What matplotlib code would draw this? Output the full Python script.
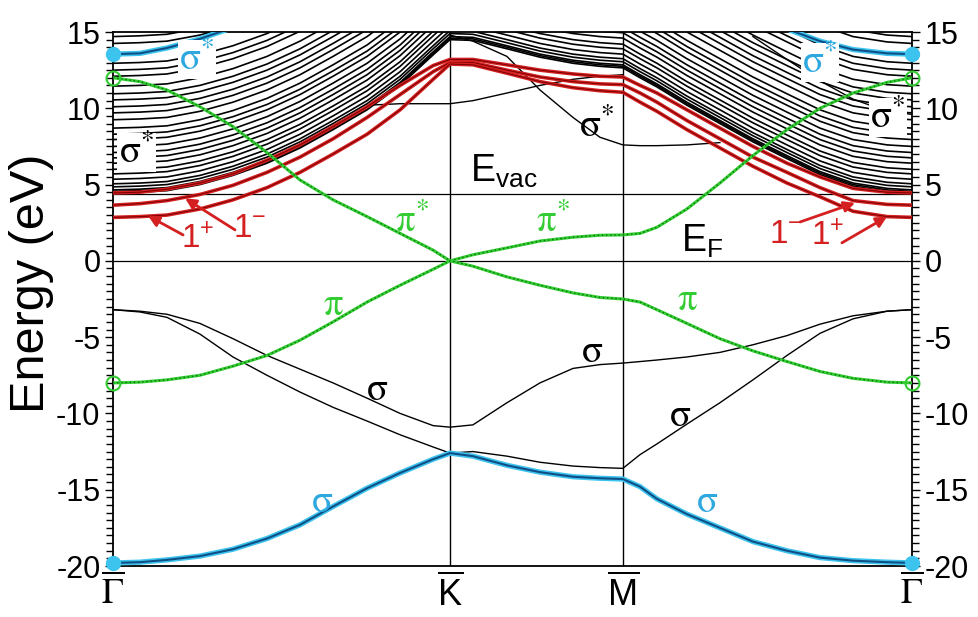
import numpy as np
import matplotlib
matplotlib.use('Agg')
import matplotlib.pyplot as plt
from matplotlib.ticker import MultipleLocator

plt.rcParams['font.family'] = ['Liberation Sans', 'DejaVu Sans']
plt.rcParams['mathtext.fontset'] = 'custom'
plt.rcParams['mathtext.rm'] = 'Liberation Sans'
plt.rcParams['mathtext.it'] = 'Liberation Sans:italic'
plt.rcParams['mathtext.bf'] = 'Liberation Sans:bold'
plt.rcParams['axes.unicode_minus'] = False

# k-path (Gamma - K - M - Gamma), distance along the path
k_ticks = [0.0, 1.0, 1.513, 2.371]
k_labels = [r'$\overline{\Gamma}$', r'$\overline{\mathrm{K}}$', r'$\overline{\mathrm{M}}$', r'$\overline{\Gamma}$']
k = [0.000, 0.080, 0.160, 0.258, 0.356, 0.457, 0.555, 0.653, 0.754, 0.852, 0.950, 1.000,
     1.068, 1.169, 1.267, 1.365, 1.445, 1.513,
     1.564, 1.614, 1.703, 1.801, 1.899, 2.000, 2.098, 2.196, 2.297, 2.371]

nan = np.nan
e_vac = 4.4

# pi / pi* bands (green)
pi_star = [12.0, 11.75, 11.2, 10.1, 8.8, 7.1, 5.3, 4.0, 2.9, 1.8, 0.7, 0.0,
           0.4, 0.85, 1.3, 1.55, 1.68, 1.7,
           1.8, 2.2, 3.4, 5.1, 6.9, 8.6, 10.0, 11.0, 11.7, 12.0]
pi_band = [-8.0, -7.95, -7.8, -7.5, -6.9, -6.2, -5.2, -4.0, -2.7, -1.6, -0.55, 0.0,
           -0.35, -1.05, -1.6, -2.1, -2.4, -2.5,
           -2.7, -3.2, -4.1, -5.1, -5.9, -6.6, -7.25, -7.7, -7.95, -8.0]

# sigma bands
sigma_low = [-19.8, -19.75, -19.6, -19.35, -18.9, -18.2, -17.3, -16.1, -14.9, -13.9, -13.0, -12.6,
             -12.8, -13.4, -13.85, -14.15, -14.25, -14.3,
             -14.8, -15.6, -16.6, -17.5, -18.4, -19.0, -19.45, -19.65, -19.75, -19.8]
sigma_a = [-3.2, -3.3, -3.5, -4.1, -5.1, -6.2, -7.1, -8.0, -9.0, -10.0, -10.8, -10.9,
           -10.75, -9.3, -8.0, -7.05, -6.8, -6.7,
           -6.6, -6.5, -6.3, -6.0, -5.5, -4.9, -4.15, -3.6, -3.3, -3.2]
sigma_b = [-3.2, -3.35, -3.7, -4.8, -6.3, -7.5, -8.6, -9.6, -10.5, -11.4, -12.2, -12.6,
           -12.5, -12.8, -13.2, -13.45, -13.55, -13.6,
           -12.7, -12.0, -10.7, -9.3, -7.8, -6.2, -4.75, -3.8, -3.3, -3.2]
sigma_star_top = [13.55, 13.6, 13.95, 14.55, 15.3, nan, nan, nan, nan, nan, nan, nan,
                  nan, nan, nan, nan, nan, nan,
                  nan, nan, nan, nan, nan, 15.2, 14.4, 13.85, 13.6, 13.55]
sigma_star_km = [nan, nan, nan, nan, nan, nan, nan, nan, nan, nan, nan, 14.8,
                 14.4, 13.4, 11.2, 9.4, 8.1, 7.6,
                 7.55, 7.55, 7.6, 7.75, nan, nan, nan, nan, nan, nan]
sigma_star_mg = [nan, nan, nan, nan, nan, nan, nan, nan, nan, nan, nan, nan,
                 nan, nan, nan, nan, nan, nan,
                 nan, nan, nan, nan, 14.7, 13.2, 11.8, 10.6, 9.8, 9.6]
band_k = [nan, nan, nan, nan, nan, nan, nan, nan, 10.2, 10.3, 10.3, 10.3,
          10.5, 11.0, 11.5, 11.9, 12.1, 12.2,
          nan, nan, nan, nan, nan, nan, nan, nan, nan, nan]

# image-potential states 1+ / 1- and the next one (red)
ips_1p = [2.85, 2.9, 3.0, 3.4, 4.0, 4.8, 5.8, 7.0, 8.3, 9.9, 11.9, 12.9,
          12.85, 12.3, 11.75, 11.35, 11.15, 11.05,
          10.4, 9.8, 8.6, 7.4, 6.2, 5.1, 4.2, 3.25, 2.9, 2.85]
ips_1m = [3.65, 3.75, 3.95, 4.35, 4.95, 5.8, 6.8, 8.0, 9.4, 10.9, 12.4, 13.0,
          13.0, 12.5, 12.05, 11.75, 11.6, 11.55,
          11.0, 10.4, 9.2, 8.0, 6.8, 5.8, 4.8, 3.95, 3.7, 3.65]
ips_2 = [4.45, 4.5, 4.7, 5.1, 5.7, 6.6, 7.6, 8.8, 10.1, 11.5, 12.8, 13.2,
         13.2, 12.85, 12.5, 12.25, 12.1, 12.05,
         11.5, 11.0, 9.9, 8.7, 7.5, 6.4, 5.5, 4.75, 4.5, 4.45]

# free-electron-like slab states: energies at Gamma and common dispersion above them
bundle_gamma = [4.45, 4.55, 4.65, 4.85, 5.05, 5.35, 5.7, 6.0, 6.4, 6.75, 7.1, 7.5, 7.95, 8.3,
                8.7, 9.25, 9.7, 10.1, 10.55, 10.95, 11.45, 12.1, 12.5, 12.95, 14.25, 14.7]
bundle_shape = [0.0, 0.05, 0.15, 0.55, 1.15, 1.95, 2.95, 4.15, 5.45, 7.05, 9.05, 10.05,
                10.0, 9.45, 8.9, 8.5, 8.3, 8.2,
                7.55, 6.95, 5.75, 4.55, 3.35, 2.25, 1.2, 0.45, 0.1, 0.0]

green = '#33cc33'
dgreen = '#0a6e0a'
red = '#d42020'
dred = '#7a0000'
cyan = '#3cc4ee'
dblue = '#0f4f86'

fig = plt.figure(figsize=(9.79, 6.17), dpi=100)
ax = fig.add_axes([113/979, 1 - 566/617, 799/979, 534/617])

# dense slab states
for e0 in bundle_gamma:
    ax.plot(k, np.array(bundle_shape) + e0, color='black', lw=1.2, zorder=1)

for band in [sigma_star_km, sigma_star_mg, band_k, sigma_a, sigma_b]:
    ax.plot(k, band, color='black', lw=1.0, zorder=2)

for band in [ips_2, ips_1m, ips_1p]:
    ax.plot(k, band, color=red, lw=2.6, zorder=3)
    ax.plot(k, band, color=dred, lw=0.7, zorder=3)

for band in [pi_star, pi_band]:
    ax.plot(k, band, color=green, lw=2.2, zorder=4)
    ax.plot(k, band, color=dgreen, lw=1.0, ls=(0, (1, 2)), zorder=4)

for band in [sigma_star_top, sigma_low]:
    ax.plot(k, band, color=cyan, lw=3.8, zorder=5, solid_capstyle='round')
    ax.plot(k, band, color=dblue, lw=1.5, zorder=5)

# markers at Gamma
for kk in [k_ticks[0], k_ticks[-1]]:
    ax.plot([kk, kk], [sigma_star_top[0], sigma_low[0]], 'o', ms=10, color=cyan,
            mec=cyan, zorder=6, clip_on=False)
    ax.plot([kk, kk], [pi_star[0], pi_band[0]], 'o', ms=10, mfc='none', mec=green,
            mew=1.5, zorder=6, clip_on=False)

# reference lines
ax.axhline(0, color='black', lw=0.9, zorder=2)
ax.axhline(e_vac, color='black', lw=0.9, zorder=2)
for kk in k_ticks[1:3]:
    ax.axvline(kk, color='black', lw=1.0, zorder=2)

# labels on the bands
box = dict(facecolor='white', edgecolor='none', pad=1.0)
greek = dict(math_fontfamily='stix', fontsize=28, ha='center', va='center', zorder=8)
ax.text(0.249, 13.2, r'$\mathrm{\sigma}^{*}$', color='#2fa8e0', bbox=box, **greek)
ax.text(2.098, 13.0, r'$\mathrm{\sigma}^{*}$', color='#2fa8e0', bbox=box, **greek)
ax.text(0.07, 7.1, r'$\mathrm{\sigma}^{*}$', color='black', bbox=box, **greek)
ax.text(2.30, 9.4, r'$\mathrm{\sigma}^{*}$', color='black', bbox=box, **greek)
ax.text(1.436, 8.8, r'$\mathrm{\sigma}^{*}$', color='black', **greek)
ax.text(0.887, 2.55, r'$\mathrm{\pi}^{*}$', color=green, **greek)
ax.text(1.306, 2.55, r'$\mathrm{\pi}^{*}$', color=green, **greek)
ax.text(0.653, -2.9, r'$\mathrm{\pi}$', color=green, **greek)
ax.text(1.703, -2.55, r'$\mathrm{\pi}$', color=green, **greek)
ax.text(0.783, -8.45, r'$\mathrm{\sigma}$', color='black', **greek)
ax.text(1.421, -6.0, r'$\mathrm{\sigma}$', color='black', **greek)
ax.text(1.682, -10.2, r'$\mathrm{\sigma}$', color='black', **greek)
ax.text(0.620, -15.8, r'$\mathrm{\sigma}$', color='#2fa8e0', **greek)
ax.text(1.763, -15.8, r'$\mathrm{\sigma}$', color='#2fa8e0', **greek)

ax.text(1.059, 5.18, r'E$_{\mathrm{vac}}$', fontsize=27, va='baseline', zorder=8)
ax.text(1.686, 0.59, r'E$_{\mathrm{F}}$', fontsize=27, va='baseline', zorder=8)

arrow = dict(arrowstyle='-|>', color=red, lw=2.0, mutation_scale=16, shrinkA=0, shrinkB=0)
ax.text(0.252, 1.38, r'1$^{+}$', color=red, fontsize=24, ha='center', va='center', zorder=8)
ax.text(0.407, 2.1, r'1$^{-}$', color=red, fontsize=24, ha='center', va='center', zorder=8)
ax.text(1.997, 1.7, r'1$^{-}$', color=red, fontsize=24, ha='center', va='center', zorder=8)
ax.text(2.122, 1.57, r'1$^{+}$', color=red, fontsize=24, ha='center', va='center', zorder=8)
ax.annotate('', xy=(0.104, 2.95), xytext=(0.208, 1.7), arrowprops=arrow, zorder=8)
ax.annotate('', xy=(0.214, 4.1), xytext=(0.362, 2.03), arrowprops=arrow, zorder=8)
ax.annotate('', xy=(2.202, 3.8), xytext=(2.039, 2.55), arrowprops=arrow, zorder=8)
ax.annotate('', xy=(2.297, 2.9), xytext=(2.163, 1.18), arrowprops=arrow, zorder=8)

# axes
ax.set_xlim(k_ticks[0], k_ticks[-1])
ax.set_ylim(-20, 15)
ax.set_xticks(k_ticks)
ax.set_xticklabels(k_labels, fontsize=26)
for lbl, fam in zip(ax.get_xticklabels(), ['stix', 'custom', 'custom', 'stix']):
    lbl.set_math_fontfamily(fam)
ax.tick_params(axis='x', length=0, pad=6)
ax.yaxis.set_major_locator(MultipleLocator(5))
ax.yaxis.set_minor_locator(MultipleLocator(0.5))
ax.tick_params(axis='y', which='both', direction='out', right=True, labelright=True,
               labelsize=22, width=1.0, pad=3)
ax.tick_params(axis='y', which='major', length=6)
ax.tick_params(axis='y', which='minor', length=5)
ax.set_ylabel('Energy (eV)', fontsize=35)
ax.yaxis.set_label_coords(-0.074, 0.53)
for s in ax.spines.values():
    s.set_linewidth(1.3)

fig.savefig('out.png', dpi=100)
